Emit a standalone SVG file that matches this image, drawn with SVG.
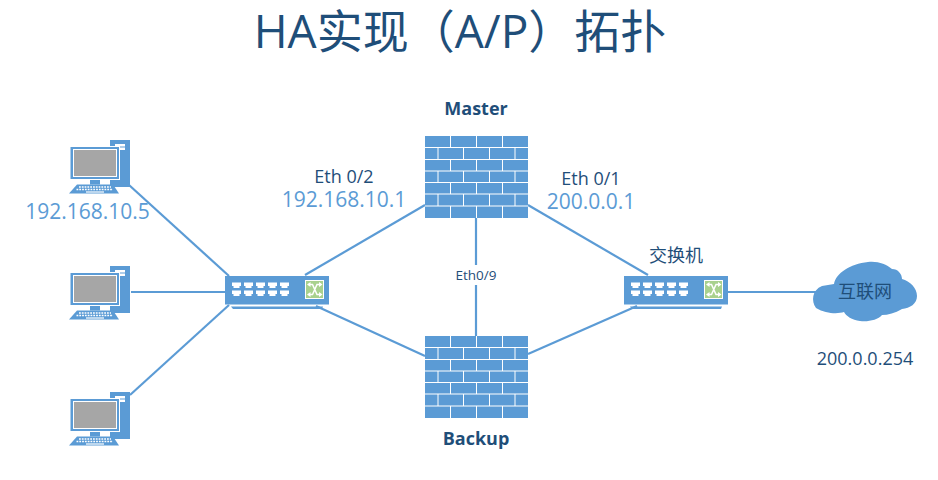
<svg xmlns="http://www.w3.org/2000/svg" width="938" height="480" viewBox="0 0 938 480">
  <style>
    text { font-family: "Open Sans", "Noto Sans CJK SC", sans-serif; }
    .dark { fill: #1F4E79; }
    .light { fill: #5B9BD5; }
    .link { stroke: #5B9BD5; stroke-width: 2.2; fill: none; }
    .brick { stroke: #fff; stroke-width: 1; fill: none; }
    .b { font-weight: 700; font-size: 18px; text-anchor: middle; }
    .m { font-size: 18px; text-anchor: middle; }
    .ip { font-size: 21px; text-anchor: middle; }
  </style>
  <defs>
    <g id="pc">
      <rect x="42" y="0" width="20" height="47" fill="#5B9BD5"/>
      <rect x="47" y="4" width="10" height="2.500" fill="#fff"/>
      <rect x="47" y="7.500" width="10" height="2.500" fill="#fff"/>
      <rect x="2" y="6.500" width="49.500" height="33" fill="#5B9BD5" stroke="#fff" stroke-width="1"/>
      <rect x="5.500" y="9.500" width="43" height="27" fill="#A6A6A6" stroke="#fff" stroke-width="1"/>
      <rect x="22" y="40" width="10" height="4.500" fill="#5B9BD5"/>
      <path d="M9 44.500H45L51 53.500H1Z" fill="#5B9BD5"/>
      <path d="M11 47H43M8.500 49.500H45" stroke="#fff" stroke-width="1.400" stroke-dasharray="1.800 1"/>
      <rect x="18" y="51" width="18" height="2" fill="#BDD7EE"/>
    </g>
    <g id="port">
      <path d="M-4.500 -3H4.500V0.500H3V2.500H-3V0.500H-4.500Z" fill="#fff"/>
    </g>
    <g id="switch">
      <rect x="0" y="0" width="104" height="28.500" fill="#5B9BD5"/>
      <path d="M6 30.500H98L97 33H8Z" fill="#5B9BD5"/>
      <use href="#port" x="11.500" y="9.500"/><use href="#port" x="23.500" y="9.500"/><use href="#port" x="35.500" y="9.500"/><use href="#port" x="47.500" y="9.500"/><use href="#port" x="59.500" y="9.500"/>
      <use href="#port" x="11.500" y="17.500"/><use href="#port" x="23.500" y="17.500"/><use href="#port" x="35.500" y="17.500"/><use href="#port" x="47.500" y="17.500"/><use href="#port" x="59.500" y="17.500"/>
      <rect x="80.500" y="4.500" width="18" height="18" fill="#A9D18E" stroke="#fff" stroke-width="1"/>
      <path d="M84 8.500H87.500L92 18.500H96M84 18.500H87.500L92 8.500H96" fill="none" stroke="#fff" stroke-width="1.500"/>
      <path d="M94 6L97.500 8.500L94 11ZM94 16L97.500 18.500L94 21ZM85.500 6L82 8.500L85.500 11ZM85.500 16L82 18.500L85.500 21Z" fill="#fff"/>
    </g>
    <g id="firewall">
      <rect x="0" y="0" width="103" height="82" fill="#5B9BD5"/>
      <path class="brick" d="M0 11.500H103M0 23.500H103M0 35H103M0 46.500H103M0 58H103M0 70H103"/>
      <path class="brick" d="M25.500 0V11.500M51.500 0V11.500M77.500 0V11.500M25.500 23.500V35M51.500 23.500V35M77.500 23.500V35M25.500 46.500V58M51.500 46.500V58M77.500 46.500V58M25.500 70V82M51.500 70V82M77.500 70V82"/>
      <path class="brick" d="M13 11.500V23.500M38.500 11.500V23.500M64.500 11.500V23.500M90 11.500V23.500M13 35V46.500M38.500 35V46.500M64.500 35V46.500M90 35V46.500M13 58V70M38.500 58V70M64.500 58V70M90 58V70"/>
    </g>
  </defs>

  <text id="title" x="460" y="48" font-size="46" text-anchor="middle" class="dark">HA实现（A/P）拓扑</text>

  <g id="connectors">
    <path class="link" d="M129 185L229 276"/>
    <path class="link" d="M131 292H225"/>
    <path class="link" d="M130 395L229 305"/>
    <path class="link" d="M305 275L425 205"/>
    <path class="link" d="M316 306L425 356"/>
    <path class="link" d="M476 218V336"/>
    <path class="link" d="M528 205L648 275"/>
    <path class="link" d="M528 354L637 306"/>
    <path class="link" d="M728 292H816"/>
  </g>

  <g id="pc1"><use href="#pc" x="68" y="140"/><text x="87.500" y="219" class="ip light">192.168.10.5</text></g>
  <g id="pc2"><use href="#pc" x="68" y="266"/></g>
  <g id="pc3"><use href="#pc" x="68" y="392"/></g>

  <g id="switch1"><use href="#switch" x="225" y="276"/></g>
  <g id="switch2"><use href="#switch" x="624" y="276"/><text x="676" y="262" class="m dark">交换机</text></g>

  <g id="master">
    <use href="#firewall" x="425" y="136"/>
    <text x="476" y="115" class="b dark">Master</text>
  </g>
  <g id="backup">
    <use href="#firewall" x="425" y="336"/>
    <text x="476" y="445" class="b dark">Backup</text>
  </g>

  <g id="eth09">
    <rect x="452" y="265" width="48" height="20" fill="#fff"/>
    <text x="476" y="280" font-size="13.500" text-anchor="middle" class="dark">Eth0/9</text>
  </g>
  <g id="eth02">
    <text x="344" y="183" class="m dark">Eth 0/2</text>
    <text x="344" y="207" class="ip light">192.168.10.1</text>
  </g>
  <g id="eth01">
    <text x="591" y="185" class="m dark">Eth 0/1</text>
    <text x="591" y="209" class="ip light">200.0.0.1</text>
  </g>

  <g id="internet">
    <path d="M816 308C811 301 812 290 822 286C826 285 830 285 834 284C836 273 850 264 868 262C878 261 886 264 892 269C898 269 902 274 902 279C910 281 917 288 917 296C917 304 910 308 902 309C895 313 888 315 882 315C878 320 868 322 860 321C852 320 846 316 844 312C838 314 826 314 816 308Z" fill="#5B9BD5"/>
    <text x="865" y="298" class="m dark">互联网</text>
    <text x="865" y="365" class="m dark">200.0.0.254</text>
  </g>
</svg>
